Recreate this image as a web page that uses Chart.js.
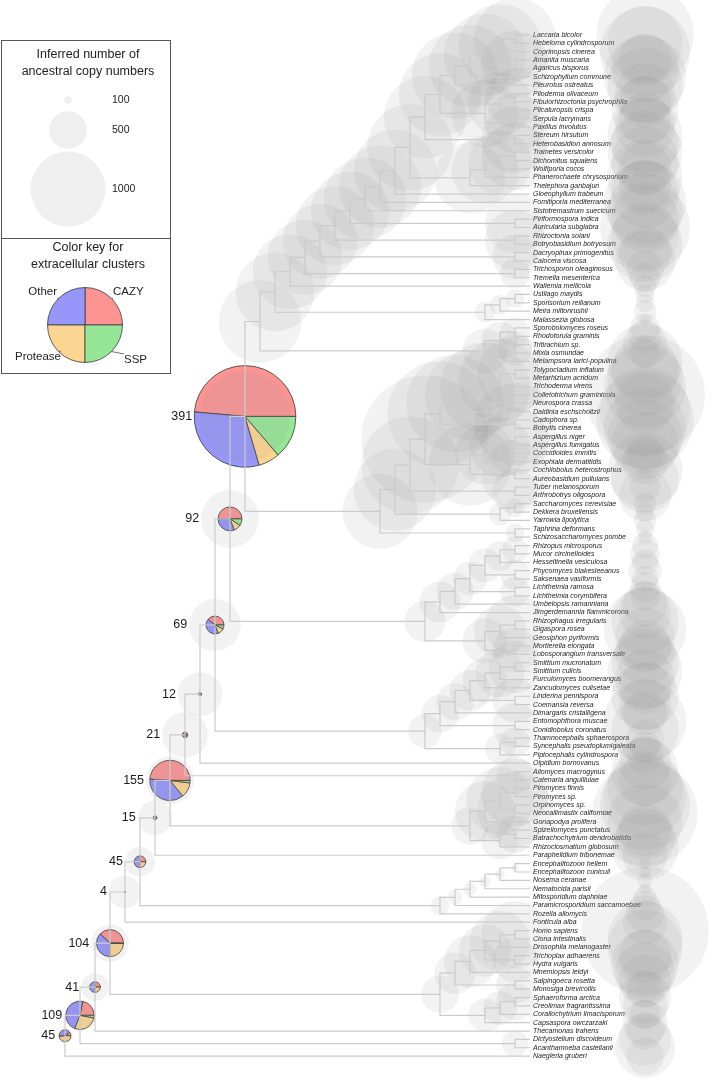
<!DOCTYPE html>
<html>
<head>
<meta charset="utf-8">
<script src="https://cdn.jsdelivr.net/npm/chart.js@4.4.1/dist/chart.umd.min.js"></script>
<style>
  html, body { margin: 0; padding: 0; background: #fff; }
  canvas { display: block; }
</style>
</head>
<body>
<canvas id="tree" width="711" height="1081"></canvas>
<script>
// leaf order, top to bottom
const species = [
  'Laccaria bicolor','Hebeloma cylindrosporum','Coprinopsis cinerea','Amanita muscaria','Agaricus bisporus',
  'Schizophyllum commune','Pleurotus ostreatus','Piloderma olivaceum','Fibulorhizoctonia psychrophila','Plicaturopsis crispa',
  'Serpula lacrymans','Paxillus involutus','Stereum hirsutum','Heterobasidion annosum','Trametes versicolor',
  'Dichomitus squalens','Wolfiporia cocos','Phanerochaete chrysosporium','Thelephora ganbajun','Gloeophyllum trabeum',
  'Fomitiporia mediterranea','Sistotremastrum suecicum','Piriformospora indica','Auricularia subglabra','Rhizoctonia solani',
  'Botryobasidium botryosum','Dacryopinax primogenitus','Calocera viscosa','Trichosporon oleaginosus','Tremella mesenterica',
  'Wallemia mellicola','Ustilago maydis','Sporisorium reilianum','Meira miltonrushii','Malassezia globosa',
  'Sporobolomyces roseus','Rhodotorula graminis','Tritirachium sp.','Mixia osmundae','Melampsora larici-populina',
  'Tolypocladium inflatum','Metarhizium acridum','Trichoderma virens','Colletotrichum graminicola','Neurospora crassa',
  'Daldinia eschscholtzii','Cadophora sp.','Botrytis cinerea','Aspergillus niger','Aspergillus fumigatus',
  'Coccidioides immitis','Exophiala dermatitidis','Cochliobolus heterostrophus','Aureobasidium pullulans','Tuber melanosporum',
  'Arthrobotrys oligospora','Saccharomyces cerevisiae','Dekkera bruxellensis','Yarrowia lipolytica','Taphrina deformans',
  'Schizosaccharomyces pombe','Rhizopus microsporus','Mucor circinelloides','Hesseltinella vesiculosa','Phycomyces blakesleeanus',
  'Saksenaea vasiformis','Lichtheimia ramosa','Lichtheimia corymbifera','Umbelopsis ramanniana','Jimgerdemannia flammicorona',
  'Rhizophagus irregularis','Gigaspora rosea','Geosiphon pyriformis','Mortierella elongata','Lobosporangium transversale',
  'Smittium mucronatum','Smittium culicis','Furculomyces boomerangus','Zancudomyces culisetae','Linderina pennispora',
  'Coemansia reversa','Dimargaris cristalligena','Entomophthora muscae','Conidiobolus coronatus','Thamnocephalis sphaerospora',
  'Syncephalis pseudoplumigaleata','Piptocephalis cylindrospora','Olpidium bornovanus','Allomyces macrogynus','Catenaria anguillulae',
  'Piromyces finnis','Piromyces sp.','Orpinomyces sp.','Neocallimastix californiae','Gonapodya prolifera',
  'Spizellomyces punctatus','Batrachochytrium dendrobatidis','Rhizoclosmatium globosum','Paraphelidium tribonemae','Encephalitozoon hellem',
  'Encephalitozoon cuniculi','Nosema ceranae','Nematocida parisii','Mitosporidium daphniae','Paramicrosporidium saccamoebae',
  'Rozella allomycis','Fonticula alba','Homo sapiens','Ciona intestinalis','Drosophila melanogaster',
  'Trichoplax adhaerens','Hydra vulgaris','Mnemiopsis leidyi','Salpingoeca rosetta','Monosiga brevicollis',
  'Sphaeroforma arctica','Creolimax fragrantissima','Corallochytrium limacisporum','Capsaspora owczarzaki','Thecamonas trahens',
  'Dictyostelium discoideum','Acanthamoeba castellanii','Naegleria gruberi'
];

// copy numbers per extant species (grey circles in the right column)
const leafCopies = [
  1300,1000,1200,700,900, 1100,1000,800,700,900,
  700,800,1000,900,1000, 900,700,1000,700,900,
  1100,1000,900,1200,900, 1000,700,800,500,400,
  300,250,250,300,150, 400,450,600,400,1000,
  900,1000,1100,1600,800, 1200,1300,1100,1000,900,
  500,600,1000,900,400, 700,300,250,300,250,
  200,350,400,350,450, 350,400,400,600,700,
  900,1100,800,700,800, 900,1000,800,700,900,
  700,600,1100,900,500, 400,500,700,900,700,
  1000,1100,1200,1400,1000, 700,800,900,600,150,
  150,200,150,300,400, 500,600,1700,1000,1000,
  700,900,800,700,500, 700,600,400,600,500,
  700,800,500
];

// topology: leaf indices, [ancestral copies] or [ancestral copies/pie index]
const cladeAgaricales = '(((((0,1)[1100],2)[1100],(3,4)[900])[1100],5)[1100],6)[1150]';
const cladeBoletales = '(((7,8)[800],9)[850],(10,11)[800])[900]';
const cladePolyporales = '((((14,15)[900],16)[850],17)[900],18)[950]';
const cladeAgaricomycotina = `(((((((((((${cladeAgaricales},${cladeBoletales})[1100],(12,13)[900])[1100],${cladePolyporales})[1150],19)[1100],20)[1100],21)[1100],(22,23)[800])[1050],(24,25)[800])[1050],(26,27)[600])[1000],(28,29)[400])[1000],30)[1000]`;
const cladeUstilago = '(((31,32)[250],33)[270],34)[280]';
const cladePuccinia = '(((35,36)[400],(37,38)[450])[500],39)[600]';
const cladeBasidio = `((${cladeAgaricomycotina},${cladeUstilago})[1050],${cladePuccinia})[1100]`;
const cladeSordario = '(((((40,41)[1000],42)[1100],43)[1200],44)[1200],45)[1300]';
const cladeEurotio = '((((48,49)[900],50)[800],51)[800],(52,53)[900])[1100]';
const cladeSaccharo = '((56,57)[250],58)[300]';
const cladeAsco = `(((((${cladeSordario},(46,47)[1100])[1400],${cladeEurotio})[1700],(54,55)[600])[1300],${cladeSaccharo})[1100],(59,60)[250])[1000]`;
const cladeMucoro = '((((((61,62)[350],63)[400],(64,65)[400])[450],(66,67)[400])[450],68)[500],69)[550]';
const cladeGlomMort = '(((70,71)[800],72)[700],(73,74)[600])[600]';
const cladeKickx = '((((((75,76)[700],77)[650],78)[600],(79,80)[600])[550],81)[500],(82,83)[600])[500]';
const cladeZoopag = `(${cladeKickx},((84,85)[400],86)[400])[450]`;
const cladeChytrid = '((((90,91)[900],(92,93)[1000])[900],94)[800],((95,96)[500],97)[500])[500]';
const cladeMicrosp = '((((((99,100)[100],101)[130],102)[150],103)[170],104)[200],105)[250]';
const cladeHolozoa = '((((((107,108)[900],109)[800],(110,111)[600])[700],112)[700],(113,114)[500])[550],(((115,116)[500],117)[450],118)[450])[500]';

const n391 = `(${cladeBasidio},${cladeAsco})[1200/0]`;
const n92 = `(${n391},(${cladeMucoro},${cladeGlomMort})[550])[770/1]`;
const n69 = `(${n92},${cladeZoopag})[690/2]`;
const n12 = `(${n69},87)[590/3]`;
const n21 = `(${n12},(88,89)[500])[610/4]`;
const n155 = `(${n21},${cladeChytrid})[640/5]`;
const n15 = `(${n155},98)[460/6]`;
const n45 = `(${n15},${cladeMicrosp})[400/7]`;
const n4 = `(${n45},106)[430/8]`;
const n104 = `(${n4},${cladeHolozoa})[500/9]`;
const n41 = `(${n104},119)[370/10]`;
const n109 = `(${n41},(120,121)[350])[420/11]`;
const treeNewick = `(${n109},122)[210/12]`;

// extracellular clusters at the backbone nodes
const pieCounts   = [391, 92, 69, 12, 21, 155, 15, 45, 4, 104, 41, 109, 45];
const pieCazy     = [0.486, 0.50, 0.39, 0.40, 0.35, 0.49, 0.40, 0.27, 0.25, 0.38, 0.25, 0.22, 0.10];
const pieOther    = [0.309, 0.31, 0.42, 0.40, 0.35, 0.37, 0.40, 0.48, 0.50, 0.37, 0.50, 0.47, 0.42];
const pieProtease = [0.068, 0.10, 0.12, 0.10, 0.20, 0.12, 0.20, 0.25, 0.25, 0.245, 0.25, 0.28, 0.48];
const pieSsp      = [0.137, 0.09, 0.07, 0.10, 0.10, 0.02, 0.00, 0.00, 0.00, 0.005, 0.00, 0.03, 0.00];

const copyLegendValues = ['100', '500', '1000'];
const clusterNames = ['CAZY', 'Other', 'Protease', 'SSP'];
const clusterColors = ['#fc9494', '#9696fb', '#fdd592', '#97e697'];

// layout
const W = 711, H = 1081;
const levelWidth = 15, rootLeft = 65;
const leafSpacing = 8.37, firstLeafTop = 35;
const copyRadius = 0.0375;   // px per copy
const pieRadius = 0.13;      // px per cluster
const copyColumnOffset = 7.67;
const greyFill = 'rgba(150,150,150,0.12)';
const legendGrey = '#efefef';
const fontFamily = '"Liberation Sans", Arial, sans-serif';

function parseTree(s) {
  let i = 0;
  function read() {
    if (s[i] === '(') {
      i++;
      const kids = [read()];
      while (s[i] === ',') { i++; kids.push(read()); }
      i++;
      let copies = 0, pie = -1;
      if (s[i] === '[') {
        const j = s.indexOf(']', i);
        const parts = s.slice(i + 1, j).split('/');
        copies = +parts[0];
        if (parts.length > 1) pie = +parts[1];
        i = j + 1;
      }
      return { kids, copies, pie };
    }
    const j = i;
    while (i < s.length && /\d/.test(s[i])) i++;
    return { leaf: +s.slice(j, i) };
  }
  return read();
}

function measure(n) {
  if (!n.kids) { n.h = 0; n.y = n.leaf; return; }
  n.kids.forEach(measure);
  n.h = 1 + Math.max(...n.kids.map(k => k.h));
  n.y = (n.kids[0].y + n.kids[n.kids.length - 1].y) / 2;
}

const rootNode = parseTree(treeNewick.replace(/\s+/g, ''));
measure(rootNode);
const depth = rootNode.h;

const branchPts = [];
const copyBubbles = [];
const pieNodes = [];
const leafNodes = [];

function walk(n) {
  n.x = depth - n.h;
  if (!n.kids) {
    leafNodes.push(n);
    copyBubbles.push({ x: depth + copyColumnOffset, y: n.y, r: leafCopies[n.leaf] * copyRadius });
    return;
  }
  n.kids.forEach(walk);
  const first = n.kids[0], last = n.kids[n.kids.length - 1];
  branchPts.push({ x: first.x, y: first.y }, { x: n.x, y: first.y }, { x: n.x, y: last.y }, { x: last.x, y: last.y }, { x: n.x, y: null });
  copyBubbles.push({ x: n.x, y: n.y, r: n.copies * copyRadius });
  if (n.pie >= 0) pieNodes.push(n);
}
walk(rootNode);

function drawPie(ctx, cx, cy, r, fracs) {
  let a = 0;
  fracs.forEach((f, k) => {
    if (f <= 0) return;
    const b = a - f * Math.PI * 2;
    ctx.beginPath();
    ctx.moveTo(cx, cy);
    ctx.arc(cx, cy, r, a, b, true);
    ctx.closePath();
    ctx.fillStyle = clusterColors[k];
    ctx.fill();
    ctx.strokeStyle = '#3a3a3a';
    ctx.lineWidth = 0.8;
    ctx.stroke();
    a = b;
  });
}

const underlay = {
  id: 'underlay',
  beforeDatasetsDraw(c) {
    const { ctx, scales: { x, y } } = c;
    ctx.save();
    // species labels
    ctx.font = `italic 7px ${fontFamily}`;
    ctx.fillStyle = '#1c1c1c';
    ctx.textAlign = 'left';
    ctx.textBaseline = 'middle';
    leafNodes.forEach(n => {
      ctx.fillText(species[n.leaf], x.getPixelForValue(n.x) + 3, y.getPixelForValue(n.y));
    });
    // pies and counts
    pieNodes.forEach(n => {
      const k = n.pie;
      const cx = x.getPixelForValue(n.x), cy = y.getPixelForValue(n.y);
      const r = pieCounts[k] * pieRadius;
      drawPie(ctx, cx, cy, r, [pieCazy[k], pieOther[k], pieProtease[k], pieSsp[k]]);
      ctx.font = `12.5px ${fontFamily}`;
      ctx.fillStyle = '#1c1c1c';
      ctx.textAlign = 'right';
      ctx.textBaseline = 'middle';
      const off = Math.max(r, n.copies * copyRadius) + 2;
      ctx.fillText(String(pieCounts[k]), cx - off, cy);
    });
    ctx.restore();
  }
};

const legendBoxes = {
  id: 'legendBoxes',
  afterDraw(c) {
    const ctx = c.ctx;
    ctx.save();
    ctx.strokeStyle = '#555';
    ctx.lineWidth = 1;
    ctx.strokeRect(1.5, 40.5, 169, 333);
    ctx.beginPath(); ctx.moveTo(1.5, 238.5); ctx.lineTo(170.5, 238.5); ctx.stroke();

    ctx.fillStyle = '#222';
    ctx.textAlign = 'center';
    ctx.textBaseline = 'middle';
    ctx.font = `12.5px ${fontFamily}`;
    ctx.fillText('Inferred number of', 88, 55);
    ctx.fillText('ancestral copy numbers', 88, 72);
    ctx.fillText('Color key for', 88, 248);
    ctx.fillText('extracellular clusters', 88, 265);

    const circleY = [100, 130, 189];
    copyLegendValues.forEach((v, i) => {
      ctx.beginPath();
      ctx.arc(68, circleY[i], +v * copyRadius, 0, Math.PI * 2);
      ctx.fillStyle = legendGrey;
      ctx.fill();
      ctx.fillStyle = '#222';
      ctx.font = `10.5px ${fontFamily}`;
      ctx.textAlign = 'left';
      ctx.fillText(v, 112, circleY[i]);
    });

    const px = 85, py = 325, pr = 37.5;
    drawPie(ctx, px, py, pr, [0.25, 0.25, 0.25, 0.25]);
    ctx.font = `11.5px ${fontFamily}`;
    ctx.fillStyle = '#222';
    const d = pr * Math.SQRT1_2;
    const keyPos = [
      { t: clusterNames[0], x: 113, y: 292, align: 'left', ax: px + d, ay: py - d, lx: 113, ly: 298 },
      { t: clusterNames[1], x: 57, y: 292, align: 'right', ax: px - d, ay: py - d, lx: 57, ly: 298 },
      { t: clusterNames[2], x: 61, y: 357, align: 'right', ax: px - d, ay: py + d, lx: 61, ly: 351 },
      { t: clusterNames[3], x: 124, y: 360, align: 'left', ax: px + d, ay: py + d, lx: 124, ly: 354 }
    ];
    keyPos.forEach(p => {
      ctx.textAlign = p.align;
      ctx.fillText(p.t, p.x, p.y);
      ctx.beginPath();
      ctx.strokeStyle = '#555';
      ctx.lineWidth = 0.8;
      ctx.moveTo(p.lx, p.ly);
      ctx.lineTo(p.ax, p.ay);
      ctx.stroke();
    });
    ctx.restore();
  }
};

new Chart(document.getElementById('tree'), {
  type: 'bubble',
  data: {
    datasets: [
      {
        type: 'line',
        label: 'branches',
        data: branchPts,
        borderColor: '#cbcbcb',
        borderWidth: 1.2,
        pointRadius: 0,
        spanGaps: false,
        fill: false,
        tension: 0,
        order: 0
      },
      {
        label: 'copies',
        data: copyBubbles,
        backgroundColor: greyFill,
        borderWidth: 0,
        order: 1
      }
    ]
  },
  options: {
    responsive: false,
    animation: false,
    events: [],
    layout: { padding: 0, autoPadding: false },
    plugins: { legend: { display: false }, tooltip: { enabled: false } },
    scales: {
      x: {
        type: 'linear', display: false,
        min: -rootLeft / levelWidth,
        max: (W - rootLeft) / levelWidth
      },
      y: {
        type: 'linear', display: false, reverse: true,
        min: -firstLeafTop / leafSpacing,
        max: (H - firstLeafTop) / leafSpacing
      }
    }
  },
  plugins: [underlay, legendBoxes]
});
</script>
</body>
</html>
